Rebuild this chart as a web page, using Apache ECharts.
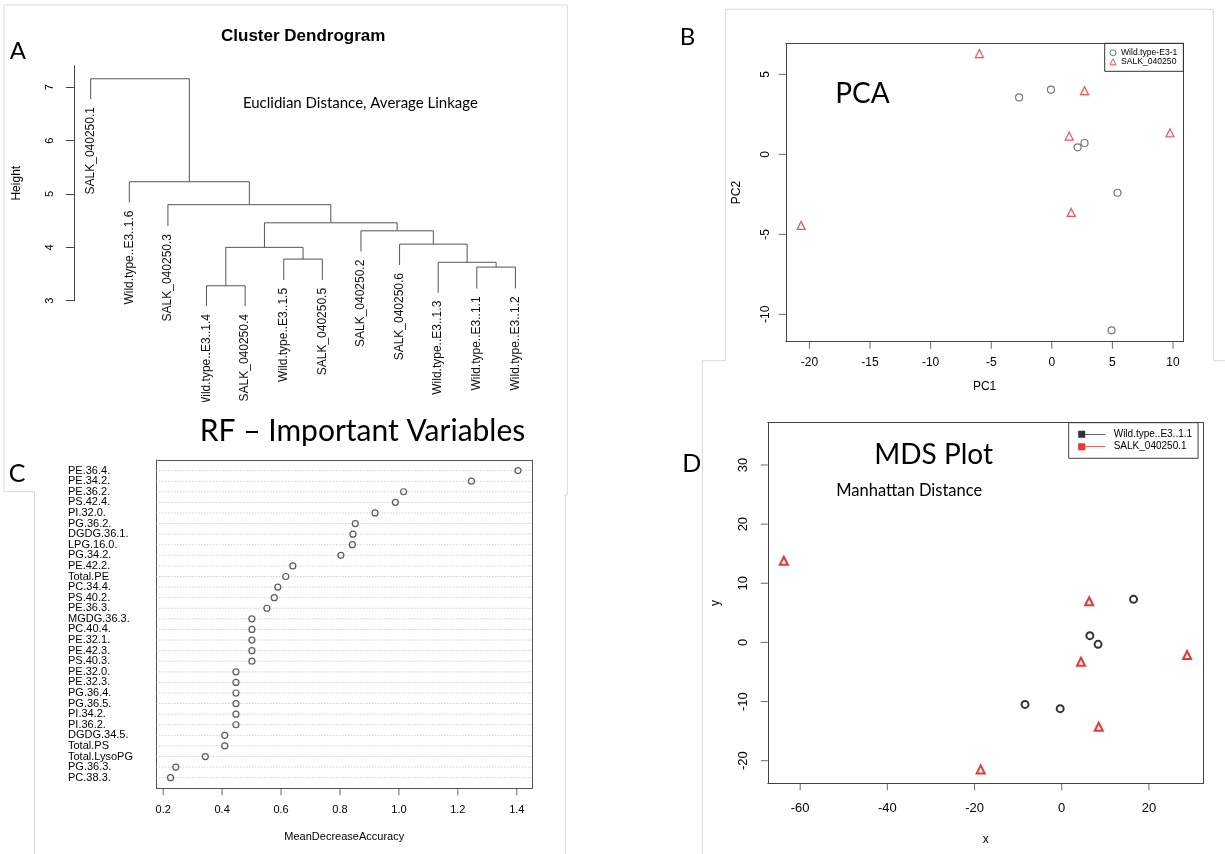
<!DOCTYPE html>
<html>
<head>
<meta charset="utf-8">
<script src="https://cdn.jsdelivr.net/npm/echarts@6/dist/echarts.min.js"></script>
<style>
  html, body { margin: 0; background: #fff; }
  #chart { width: 1225px; height: 854px; }
</style>
</head>
<body>
<div id="chart"></div>
<script>
// A: cluster dendrogram (leaves in plotting order, merges as in hclust)
const leafLabels = [
  'SALK_040250.1', 'Wild.type..E3..1.6', 'SALK_040250.3', 'Wild.type..E3..1.4',
  'SALK_040250.4', 'Wild.type..E3..1.5', 'SALK_040250.5', 'SALK_040250.2',
  'SALK_040250.6', 'Wild.type..E3..1.3', 'Wild.type..E3..1.1', 'Wild.type..E3..1.2',
];
const leafHeights = [6.78, 4.84, 4.40, 2.90, 2.90, 3.39, 3.39, 3.92, 3.67, 3.15, 3.23, 3.23];
const mergePairs = [
  [-4, -5], [-11, -12], [-10, 2], [-6, -7], [1, 4], [-9, 3],
  [-8, 6], [5, 7], [-3, 8], [-2, 9], [-1, 10],
];
const mergeHeights = [3.28, 3.63, 3.72, 3.78, 4.00, 4.06, 4.31, 4.46, 4.80, 5.23, 7.16];
const heightTicks = [3, 4, 5, 6, 7];

// B: PCA scores
const pcaWildX = [-2.70, -0.07, 2.13, 2.70, 5.42, 4.93];
const pcaWildY = [3.56, 4.04, 0.44, 0.71, -2.40, -11.0];
const pcaSalkX = [-5.98, 2.70, 1.43, 9.75, 1.60, -20.69];
const pcaSalkY = [6.30, 3.98, 1.14, 1.35, -3.63, -4.44];
const pc1Ticks = [-20, -15, -10, -5, 0, 5, 10];
const pc2Ticks = [-10, -5, 0, 5];
const pc1Range = [-21.95, 10.85];
const pc2Range = [-11.71, 6.94];

// C: random forest variable importance
const rfVariables = [
  'PE.36.4.', 'PE.34.2.', 'PE.36.2.', 'PS.42.4.', 'PI.32.0.', 'PG.36.2.',
  'DGDG.36.1.', 'LPG.16.0.', 'PG.34.2.', 'PE.42.2.', 'Total.PE', 'PC.34.4.',
  'PS.40.2.', 'PE.36.3.', 'MGDG.36.3.', 'PC.40.4.', 'PE.32.1.', 'PE.42.3.',
  'PS.40.3.', 'PE.32.0.', 'PE.32.3.', 'PG.36.4.', 'PG.36.5.', 'PI.34.2.',
  'PI.36.2.', 'DGDG.34.5.', 'Total.PS', 'Total.LysoPG', 'PG.36.3.', 'PC.38.3.',
];
const rfAccuracy = [
  1.404, 1.246, 1.016, 0.988, 0.919, 0.852, 0.844, 0.842, 0.803, 0.640,
  0.616, 0.589, 0.577, 0.552, 0.501, 0.501, 0.501, 0.501, 0.501, 0.447,
  0.447, 0.447, 0.447, 0.447, 0.447, 0.409, 0.409, 0.343, 0.243, 0.225,
];
const rfTicks = [0.2, 0.4, 0.6, 0.8, 1.0, 1.2, 1.4];
const rfRange = [0.177, 1.452];
const rfRowRange = [0, 31];

// D: MDS coordinates
const mdsWildX = [16.48, 6.46, 8.34, -8.41, -0.35];
const mdsWildY = [7.28, 1.14, -0.33, -10.48, -11.2];
const mdsSalkX = [-63.76, 6.30, 4.42, 28.77, 8.49, -18.59];
const mdsSalkY = [13.82, 6.95, -3.26, -2.13, -14.25, -21.47];
const mdsXTicks = [-60, -40, -20, 0, 20];
const mdsYTicks = [-20, -10, 0, 10, 20, 30];
const mdsXRange = [-67.43, 32.53];
const mdsYRange = [-23.82, 37.15];

const rFont = "'Liberation Sans', Arial, sans-serif";
const pptFont = "Lato, 'Open Sans', sans-serif";

// x position of every merge is the midpoint of its two children
const mergeX = [];
const nodeX = (n) => (n < 0 ? -n : mergeX[n - 1]);
const nodeY = (n) => (n < 0 ? leafHeights[-n - 1] : mergeHeights[n - 1]);
const links = mergePairs.map(([a, b], i) => {
  mergeX[i] = (nodeX(a) + nodeX(b)) / 2;
  return [nodeX(a), nodeY(a), nodeX(b), nodeY(b), mergeHeights[i]];
});

const zip = (xs, ys) => xs.map((x, i) => [x, ys[i]]);

const plainAxis = (extra, color = '#444') => Object.assign({
  type: 'value',
  splitLine: {show: false},
  axisLine: {show: true, onZero: false, lineStyle: {color}},
  nameTextStyle: {fontFamily: rFont, fontSize: 12, color: '#000'},
}, extra);

// top / right edges of an R box() drawn as bare axis lines
const boxEdge = (gridIndex, position, color) => ({
  type: 'value', gridIndex, position, min: 0, max: 1,
  axisLine: {show: true, onZero: false, lineStyle: {color}},
  axisTick: {show: false}, axisLabel: {show: false}, splitLine: {show: false},
});

const labelsAt = (values, labelExtra) => ({
  axisLabel: Object.assign({
    customValues: values, showMinLabel: true, showMaxLabel: true,
    fontFamily: rFont, fontSize: 12, color: '#000',
  }, labelExtra),
});

// outward tick marks as thin rect symbols sitting on the box edge
const tickMarks = (axisIndex, data, side, length = 7) => ({
  type: 'scatter', silent: true, clip: false, z: 5,
  xAxisIndex: axisIndex, yAxisIndex: axisIndex,
  symbol: 'rect',
  symbolSize: side === 'bottom' ? [1, length] : [length, 1],
  symbolOffset: side === 'bottom' ? [0, length / 2] : [-length / 2, 0],
  itemStyle: {color: '#444'},
  data,
});

const openSymbol = (color, width) => ({color: 'transparent', borderColor: color, borderWidth: width});

const text = (x, y, content, font, extra) => ({
  type: 'text', x, y, z: 120,
  style: Object.assign({
    text: content, font, fill: '#000',
    align: 'center', verticalAlign: 'middle',
    textAlign: 'center', textVerticalAlign: 'middle',
  }, extra),
});

const border = (points) => ({
  type: 'polyline', z: 0, silent: true,
  shape: {points},
  style: {stroke: '#d9d9d9', lineWidth: 1, fill: null},
});

// row positions 1..30 plus empty guard values so edge labels are never dropped
const rfRows = [0, ...rfVariables.map((_, i) => i + 1), rfVariables.length + 1];

const chart = echarts.init(document.getElementById('chart'));
chart.setOption({
  animation: false,
  backgroundColor: '#fff',
  grid: [
    {left: 73.9, top: 65.7, width: 466.1, height: 235, show: false},
    {left: 785.8, top: 43.3, width: 397.5, height: 298.4, show: false},
    {left: 156.4, top: 460, width: 375.7, height: 328.3, show: false},
    {left: 767.8, top: 422.7, width: 435.7, height: 360.6, show: false},
  ],
  xAxis: [
    plainAxis({gridIndex: 0, min: 0.565, max: 12.637, show: false}),
    plainAxis(Object.assign({
      gridIndex: 1, min: pc1Range[0], max: pc1Range[1], axisTick: {show: false},
      name: 'PC1', nameLocation: 'middle', nameGap: 39,
    }, labelsAt(pc1Ticks, {margin: 15}))),
    plainAxis(Object.assign({
      gridIndex: 2, min: rfRange[0], max: rfRange[1], axisTick: {show: false},
      name: 'MeanDecreaseAccuracy', nameLocation: 'middle', nameGap: 43,
      nameTextStyle: {fontFamily: rFont, fontSize: 11, color: '#000'},
    }, labelsAt(rfTicks, {margin: 16, fontSize: 11, formatter: (v) => v.toFixed(1)})), '#555'),
    plainAxis(Object.assign({
      gridIndex: 3, min: mdsXRange[0], max: mdsXRange[1], axisTick: {show: false},
      name: 'x', nameLocation: 'middle', nameGap: 50,
    }, labelsAt(mdsXTicks, {margin: 19, fontSize: 13}))),
    boxEdge(1, 'top', '#444'),
    boxEdge(2, 'top', '#555'),
    boxEdge(3, 'top', '#444'),
  ],
  yAxis: [
    plainAxis(Object.assign({
      gridIndex: 0, min: 3, max: 7.405,
      name: 'Height', nameLocation: 'middle', nameGap: 51, nameRotate: 90,
      axisTick: {show: true, customValues: heightTicks, length: 8, lineStyle: {color: '#444'}},
    }, labelsAt(heightTicks, {rotate: 90, margin: 18, fontSize: 11}))),
    plainAxis(Object.assign({
      gridIndex: 1, min: pc2Range[0], max: pc2Range[1], axisTick: {show: false},
      name: 'PC2', nameLocation: 'middle', nameGap: 43, nameRotate: 90,
    }, labelsAt(pc2Ticks, {rotate: 90, margin: 14.5}))),
    plainAxis({
      gridIndex: 2, min: rfRowRange[0], max: rfRowRange[1], inverse: true,
      axisTick: {show: false},
      axisLabel: {
        customValues: rfRows,
        showMinLabel: false, showMaxLabel: false,
        formatter: (v) => rfVariables[v - 1] || '',
        align: 'left', margin: 88.4,
        fontFamily: rFont, fontSize: 11, color: '#000',
      },
    }, '#555'),
    plainAxis(Object.assign({
      gridIndex: 3, min: mdsYRange[0], max: mdsYRange[1], axisTick: {show: false},
      name: 'y', nameLocation: 'middle', nameGap: 46, nameRotate: 90,
    }, labelsAt(mdsYTicks, {rotate: 90, margin: 17.5, fontSize: 13}))),
    boxEdge(1, 'right', '#444'),
    boxEdge(2, 'right', '#555'),
    boxEdge(3, 'right', '#444'),
  ],
  legend: [
    {
      orient: 'vertical', left: 1104.7, top: 43.3,
      itemWidth: 6, itemHeight: 6, itemGap: 0,
      padding: [5, 6, 5, 4.8],
      borderColor: '#333', borderWidth: 1, borderRadius: 0,
      selectedMode: false,
      textStyle: {fontFamily: rFont, fontSize: 8.6, lineHeight: 8, color: '#000'},
      data: [
        {name: 'Wild.type-E3-1', icon: 'circle', itemStyle: openSymbol('#555', 1)},
        {name: 'SALK_040250', icon: 'triangle', itemStyle: openSymbol('#f22', 1)},
      ],
    },
    {
      orient: 'vertical', left: 1068.7, top: 422.7,
      itemWidth: 27, itemHeight: 7, itemGap: 0,
      padding: [5.4, 6, 5.4, 9.5],
      borderColor: '#444', borderWidth: 1, borderRadius: 0,
      selectedMode: false,
      textStyle: {fontFamily: rFont, fontSize: 10, lineHeight: 12.4, color: '#000', padding: [0, 0, 0, 3.5]},
      data: [
        {name: 'Wild.type..E3..1.1', icon: 'path://M0,0H7V7H0Z M7,3.1H27V3.9H7Z', itemStyle: {color: '#000', borderWidth: 0}},
        {name: 'SALK_040250.1', icon: 'path://M0,0H7V7H0Z M7,3.1H27V3.9H7Z', itemStyle: {color: '#e00', borderWidth: 0}},
      ],
    },
  ],
  series: [
    {
      type: 'custom', name: 'links', xAxisIndex: 0, yAxisIndex: 0,
      data: links,
      renderItem: (params, api) => ({
        type: 'polyline',
        shape: {points: [
          api.coord([api.value(0), api.value(1)]),
          api.coord([api.value(0), api.value(4)]),
          api.coord([api.value(2), api.value(4)]),
          api.coord([api.value(2), api.value(3)]),
        ]},
        style: {stroke: '#555', lineWidth: 1, fill: null},
      }),
    },
    {
      type: 'custom', name: 'leaves', xAxisIndex: 0, yAxisIndex: 0,
      data: leafHeights.map((h, i) => [i + 1, h]),
      renderItem: (params, api) => {
        const p = api.coord([api.value(0), api.value(1)]);
        return {
          type: 'text', x: p[0], y: p[1] + 8, rotation: Math.PI / 2,
          style: {
            text: leafLabels[params.dataIndex],
            fontFamily: rFont, fontSize: 12, fill: '#111',
            align: 'right', verticalAlign: 'middle',
            textAlign: 'right', textVerticalAlign: 'middle',
          },
        };
      },
    },
    tickMarks(1, pc1Ticks.map((v) => [v, pc2Range[0]]), 'bottom'),
    tickMarks(1, pc2Ticks.map((v) => [pc1Range[0], v]), 'left'),
    tickMarks(2, rfTicks.map((v) => [v, rfRowRange[1]]), 'bottom'),
    tickMarks(3, mdsXTicks.map((v) => [v, mdsYRange[0]]), 'bottom'),
    tickMarks(3, mdsYTicks.map((v) => [mdsXRange[0], v]), 'left'),
    {
      type: 'scatter', name: 'Wild.type-E3-1', xAxisIndex: 1, yAxisIndex: 1,
      symbol: 'circle', symbolSize: 7,
      itemStyle: openSymbol('#555', 1.2),
      data: zip(pcaWildX, pcaWildY),
    },
    {
      type: 'scatter', name: 'SALK_040250', xAxisIndex: 1, yAxisIndex: 1,
      symbol: 'triangle', symbolSize: 8,
      itemStyle: openSymbol('#f22', 1.2),
      data: zip(pcaSalkX, pcaSalkY),
    },
    {
      type: 'custom', name: 'rfGuides', xAxisIndex: 2, yAxisIndex: 2,
      data: rfAccuracy.map((v, i) => [v, i + 1]),
      renderItem: (params, api) => {
        const y = api.coord([api.value(0), api.value(1)])[1];
        const cs = params.coordSys;
        return {
          type: 'line',
          shape: {x1: cs.x, y1: y, x2: cs.x + cs.width, y2: y},
          style: {stroke: '#b8b8b8', lineWidth: 1, lineDash: [1, 2]},
        };
      },
    },
    {
      type: 'scatter', name: 'importance', xAxisIndex: 2, yAxisIndex: 2,
      symbol: 'circle', symbolSize: 6, z: 3,
      itemStyle: openSymbol('#333', 1.2),
      data: rfAccuracy.map((v, i) => [v, i + 1]),
    },
    {
      type: 'scatter', name: 'Wild.type..E3..1.1', xAxisIndex: 3, yAxisIndex: 3,
      symbol: 'circle', symbolSize: 7,
      itemStyle: openSymbol('#000', 2),
      data: zip(mdsWildX, mdsWildY),
    },
    {
      type: 'scatter', name: 'SALK_040250.1', xAxisIndex: 3, yAxisIndex: 3,
      symbol: 'triangle', symbolSize: 8,
      itemStyle: openSymbol('#e00', 2),
      data: zip(mdsSalkX, mdsSalkY),
    },
  ],
  graphic: [
    border([[4, 491.7], [4, 5], [567.3, 5], [567.3, 495], [565.3, 495], [565.3, 854]]),
    border([[4, 491.7], [34.5, 491.7], [34.5, 854]]),
    border([[725.7, 360.7], [725.7, 9.3], [1213.3, 9.3], [1213.3, 360.7], [1225, 360.7]]),
    border([[702.3, 854], [702.3, 360.7], [725.7, 360.7]]),
    {type: 'rect', z: 110, silent: true, shape: {x: 60, y: 402, width: 490, height: 14}, style: {fill: '#fff'}},
    text(17.9, 51.7, 'A', `24px ${pptFont}`),
    text(687.5, 37, 'B', `24px ${pptFont}`),
    text(17.2, 474, 'C', `25px ${pptFont}`),
    text(691.7, 464, 'D', `25px ${pptFont}`),
    text(303.2, 36, 'Cluster Dendrogram', `bold 17px ${rFont}`),
    text(360.4, 103.3, 'Euclidian Distance, Average Linkage', `15px ${pptFont}`),
    text(862.5, 94, 'PCA', `28px ${pptFont}`),
    text(362.5, 431.7, 'RF \u2013 Important Variables', `30px ${pptFont}`),
    text(933.6, 455, 'MDS Plot', `28px ${pptFont}`),
    text(909.2, 490.7, 'Manhattan Distance', `16.5px ${pptFont}`),
  ],
});
</script>
</body>
</html>
